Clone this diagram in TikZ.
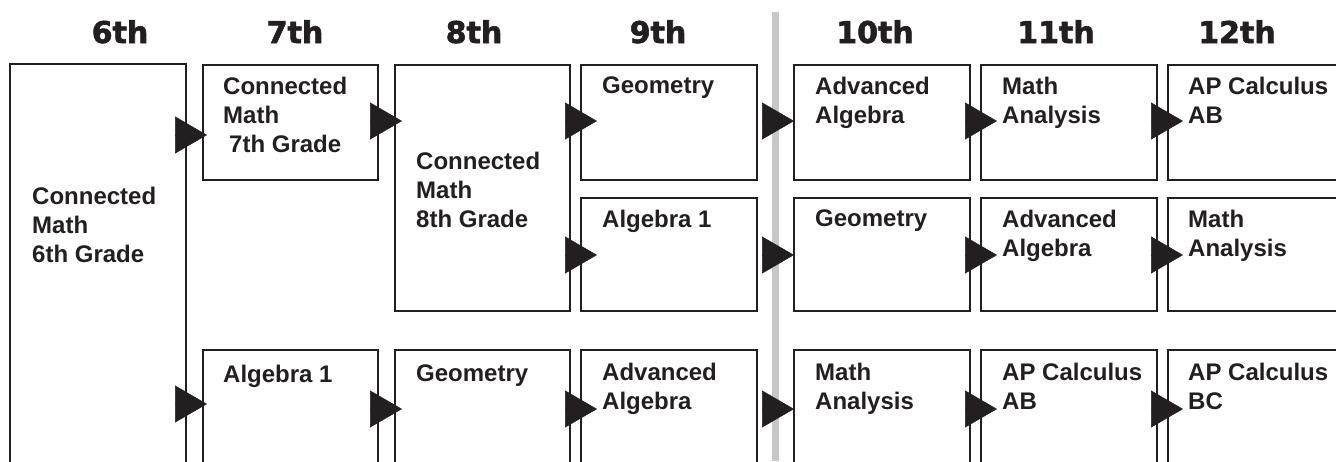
\documentclass[tikz,border=0pt]{standalone}
\usepackage{fontspec}
\setmainfont{Liberation Sans}
\newfontfamily\headfont{DejaVu Sans}[BoldFeatures={FakeBold=2}]
\usetikzlibrary{arrows.meta,positioning,calc}
\definecolor{ink}{HTML}{231F20}
\definecolor{divider}{HTML}{C7C8CA}

\begin{document}
\begin{tikzpicture}[
  x=1pt,y=-1pt,
  course/.style={draw=ink,line width=2.5pt,anchor=north west,outer sep=0pt,
                 inner sep=0pt,minimum width=176pt,minimum height=115pt},
  title/.style={anchor=north west,inner sep=0pt,align=left,text=ink,
                font=\fontsize{24}{29}\selectfont\bfseries},
  grade/.style={anchor=base,inner sep=0pt,text=ink,
                font=\headfont\fontsize{30}{36}\selectfont\bfseries},
  pass/.style={-{Triangle[length=32pt,width=37pt]},ink,line width=0.5pt}
]
\fill[white] (0,0) rectangle (1336,461);
\useasboundingbox (0,0) rectangle (1336,461);
\clip (0,0) rectangle (1336,461);

% grade headings
\node[grade] (h6) at (120,43) {6th};
\node[grade] (h7) at (295,43) {7th};
\node[grade] (h8) at (474,43) {8th};
\node[grade] (h9) at (658,43) {9th};
\node[grade] (h10) at (875,43) {10th};
\node[grade] (h11) at (1056,43) {11th};
\node[grade] (h12) at (1237,43) {12th};

% middle school / high school split
\draw[divider,line width=7pt] (775,12) -- (775,461);

% course boxes
\node[course,minimum height=420pt] (g6) at (10,64) {};
\node[course,minimum width=175pt] (g7a) at (203,65) {};
\node[course,minimum width=175pt,minimum height=150pt] (g7b) at (203,350) {};
\node[course,minimum width=175pt,minimum height=246pt] (g8a) at (395,65) {};
\node[course,minimum width=175pt,minimum height=150pt] (g8b) at (395,350) {};
\node[course] (g9a) at (581,65) {};
\node[course,minimum height=113pt] (g9b) at (581,198) {};
\node[course,minimum height=150pt] (g9c) at (581,350) {};
\node[course] (g10a) at (794,65) {};
\node[course,minimum height=113pt] (g10b) at (794,198) {};
\node[course,minimum height=150pt] (g10c) at (794,350) {};
\node[course] (g11a) at (981,65) {};
\node[course,minimum height=113pt] (g11b) at (981,198) {};
\node[course,minimum height=150pt] (g11c) at (981,350) {};
\node[course,minimum width=200pt] (g12a) at (1168,65) {};
\node[course,minimum width=200pt,minimum height=113pt] (g12b) at (1168,198) {};
\node[course,minimum width=200pt,minimum height=150pt] (g12c) at (1168,350) {};

% course names
\node[title] (g6-t) at ([shift={(22,123)}]g6.north west) {Connected\\Math\\6th Grade};
\node[title] (g7a-t) at ([shift={(20,12)}]g7a.north west) {Connected\\Math\\\hspace*{6pt}7th Grade};
\node[title] (g7b-t) at ([shift={(20,15)}]g7b.north west) {Algebra 1};
\node[title] (g8a-t) at ([shift={(21,87)}]g8a.north west) {Connected\\Math\\8th Grade};
\node[title] (g8b-t) at ([shift={(21,15)}]g8b.north west) {Geometry};
\node[title] (g9a-t) at ([shift={(21,12)}]g9a.north west) {Geometry};
\node[title] (g9b-t) at ([shift={(21,12)}]g9b.north west) {Algebra 1};
\node[title] (g9c-t) at ([shift={(21,13)}]g9c.north west) {Advanced\\Algebra};
\node[title] (g10a-t) at ([shift={(21,12)}]g10a.north west) {Advanced\\Algebra};
\node[title] (g10b-t) at ([shift={(21,12)}]g10b.north west) {Geometry};
\node[title] (g10c-t) at ([shift={(21,13)}]g10c.north west) {Math\\Analysis};
\node[title] (g11a-t) at ([shift={(21,12)}]g11a.north west) {Math\\Analysis};
\node[title] (g11b-t) at ([shift={(21,12)}]g11b.north west) {Advanced\\Algebra};
\node[title] (g11c-t) at ([shift={(21,13)}]g11c.north west) {AP Calculus\\AB};
\node[title] (g12a-t) at ([shift={(20,12)}]g12a.north west) {AP Calculus\\AB};
\node[title] (g12b-t) at ([shift={(20,12)}]g12b.north west) {Math\\Analysis};
\node[title] (g12c-t) at ([shift={(20,13)}]g12c.north west) {AP Calculus\\BC};

% arrow tips
\coordinate (a7a) at ([shift={(4,70)}]g7a.north west);
\coordinate (a7b) at ([shift={(4,54)}]g7b.north west);
\coordinate (a8a) at ([shift={(7,56)}]g8a.north west);
\coordinate (a8b) at ([shift={(7,59)}]g8b.north west);
\coordinate (a9a) at ([shift={(16,56)}]g9a.north west);
\coordinate (a9b) at ([shift={(16,57)}]g9b.north west);
\coordinate (a9c) at ([shift={(16,59)}]g9c.north west);
\coordinate (a10a) at ([shift={(0,56)}]g10a.north west);
\coordinate (a10b) at ([shift={(0,57)}]g10b.north west);
\coordinate (a10c) at ([shift={(0,59)}]g10c.north west);
\coordinate (a11a) at ([shift={(16,56)}]g11a.north west);
\coordinate (a11b) at ([shift={(16,57)}]g11b.north west);
\coordinate (a11c) at ([shift={(16,59)}]g11c.north west);
\coordinate (a12a) at ([shift={(15,56)}]g12a.north west);
\coordinate (a12b) at ([shift={(15,57)}]g12b.north west);
\coordinate (a12c) at ([shift={(15,59)}]g12c.north west);

% pathways
\draw[pass] (g6.east |- a7a) -- (a7a);
\draw[pass] (g6.east |- a7b) -- (a7b);
\draw[pass] (g7a.east |- a8a) -- (a8a);
\draw[pass] (g7b.east |- a8b) -- (a8b);
\draw[pass] (g8a.east |- a9a) -- (a9a);
\draw[pass] (g8a.east |- a9b) -- (a9b);
\draw[pass] (g8b.east |- a9c) -- (a9c);
\draw[pass,shorten <=6pt] (g9a.east |- a10a) -- (a10a);
\draw[pass,shorten <=6pt] (g9b.east |- a10b) -- (a10b);
\draw[pass,shorten <=6pt] (g9c.east |- a10c) -- (a10c);
\draw[pass] (g10a.east |- a11a) -- (a11a);
\draw[pass] (g10b.east |- a11b) -- (a11b);
\draw[pass] (g10c.east |- a11c) -- (a11c);
\draw[pass] (g11a.east |- a12a) -- (a12a);
\draw[pass] (g11b.east |- a12b) -- (a12b);
\draw[pass] (g11c.east |- a12c) -- (a12c);
\end{tikzpicture}
\end{document}
